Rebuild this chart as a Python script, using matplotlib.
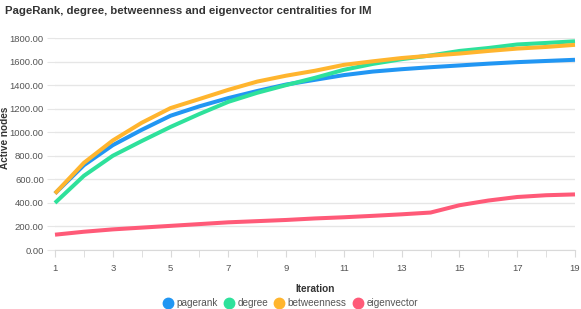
import matplotlib.pyplot as plt
from matplotlib.lines import Line2D
from matplotlib.ticker import FormatStrFormatter, MultipleLocator

plt.rcParams['font.family'] = ['Liberation Sans', 'DejaVu Sans']

iterations = list(range(1, 20))
pagerank = [480, 720, 890, 1020, 1140, 1220, 1290, 1350, 1405, 1445, 1485, 1515, 1535, 1552, 1567, 1582, 1595, 1605, 1615]
degree = [400, 630, 800, 925, 1045, 1155, 1258, 1335, 1400, 1462, 1530, 1580, 1620, 1652, 1690, 1715, 1745, 1758, 1772]
betweenness = [480, 740, 930, 1080, 1205, 1282, 1360, 1430, 1480, 1522, 1572, 1602, 1630, 1650, 1668, 1690, 1710, 1724, 1742]
eigenvector = [130, 155, 175, 190, 205, 220, 235, 245, 255, 268, 278, 290, 303, 318, 380, 420, 450, 465, 472]

names = ['pagerank', 'degree', 'betweenness', 'eigenvector']
colors = ['#2196f3', '#2ee19b', '#ffb52e', '#ff5a78']
series = [pagerank, degree, betweenness, eigenvector]

W, H = 581, 309
fig = plt.figure(figsize=(W / 100, H / 100), dpi=100)
ax = fig.add_axes([55 / W, (H - 250) / H, 520 / W, 212 / H])

for vals, c in zip(series, colors):
    ax.plot(iterations, vals, color=c, lw=2.9, solid_capstyle='butt',
            solid_joinstyle='round', clip_on=False, zorder=3)

ax.set_xlim(1, 19)
ax.set_ylim(0, 1800)
ax.yaxis.set_major_locator(MultipleLocator(200))
ax.yaxis.set_major_formatter(FormatStrFormatter('%.2f'))
ax.set_xticks(range(1, 20, 2))
ax.set_xticks(range(1, 20), minor=True)

for s in ['top', 'right', 'left']:
    ax.spines[s].set_visible(False)
ax.spines['bottom'].set_color('#d9d9d9')
ax.grid(axis='y', color='#e6e6e6', lw=1)
ax.set_axisbelow(True)

ax.tick_params(axis='y', length=6, color='#e6e6e6', labelsize=6.8, labelcolor='#555555', pad=2)
ax.tick_params(axis='x', which='both', length=5, color='#d9d9d9', labelsize=6.8,
               labelcolor='#555555', pad=5)

ax.set_xlabel('Iteration', fontsize=7.2, fontweight='bold', color='#333333')
ax.xaxis.set_label_coords(0.5, -(289 - 250) / 212)
ax.xaxis.label.set_va('center')
ax.set_ylabel('Active nodes', fontsize=7.2, fontweight='bold', color='#333333')
ax.yaxis.set_label_coords(-(55 - 5) / 520, (250 - 138) / 212)
ax.yaxis.label.set_va('center')

fig.text(5 / W, 1 - 11 / H, 'PageRank, degree, betweenness and eigenvector centralities for IM',
         fontsize=8.2, fontweight='bold', color='#333333', va='center', ha='left')

handles = [Line2D([], [], ls='', marker='o', ms=7.5, color=c) for c in colors]
fig.legend(handles, names, loc='center', bbox_to_anchor=(0.5, 1 - 303 / H), ncol=4,
           frameon=False, fontsize=7.2, handletextpad=0.35, columnspacing=0.6,
           handlelength=1.0, borderpad=0, labelcolor='#555555')

fig.savefig('out.png', dpi=100)
